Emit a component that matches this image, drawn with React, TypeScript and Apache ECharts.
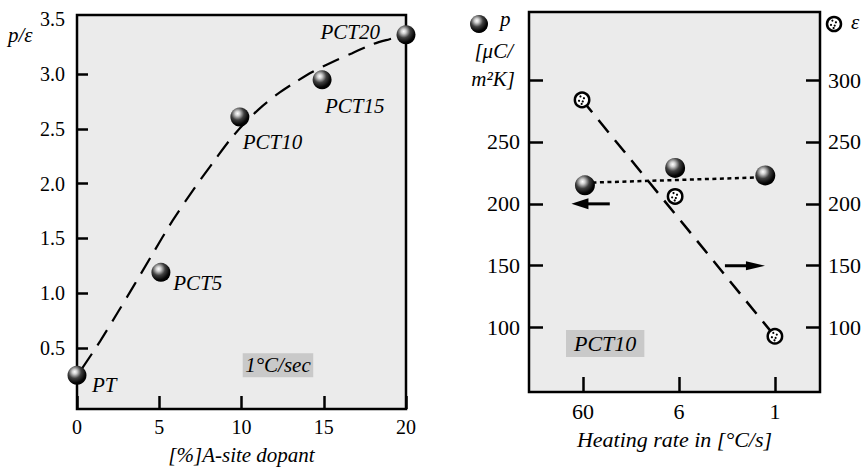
import React, { useEffect, useRef } from "react";
import * as echarts from "echarts";

// ---------- Left panel data ----------
const sampleNames = ["PT", "PCT5", "PCT10", "PCT15", "PCT20"];
const dopantPct = [0, 5.1, 9.9, 14.9, 20];
const ratioPE = [0.25, 1.19, 2.61, 2.95, 3.36];
const fitDopant = [0.3, 1.4, 2.5, 3.5, 4.6, 5.8, 7.1, 8.3, 9.4, 10.3, 11.2, 12.2, 13.2, 14.3, 15.5, 16.7, 17.9, 19.0, 20];
const fitRatio = [0.31, 0.56, 0.83, 1.08, 1.36, 1.66, 1.95, 2.2, 2.42, 2.57, 2.7, 2.82, 2.92, 3.02, 3.11, 3.19, 3.27, 3.32, 3.36];
const leftYLabels = [0.5, 1, 1.5, 2, 2.5, 3, 3.5];
const leftYTicks = [0.5, 1, 1.5, 2, 2.5, 3];
const leftXTicks = [0, 5, 10, 15, 20];

// ---------- Right panel data ----------
const rateLabels = ["60", "6", "1"];
const rateTickPos = [0, 1, 2];
const pPos = [0.02, 0.96, 1.9];
const pValues = [215, 229, 223];
const ePos = [-0.01, 0.96, 2.0];
const eValues = [284, 206, 93];
const pFitPos = [0.02, 1.9];
const pFitValues = [217, 221.5];
const eFitPos = [-0.01, 2.0];
const eFitValues = [284, 93];
const rightLeftLabels = [100, 150, 200, 250];
const rightTicks = [100, 150, 200, 250, 300];
// arrows (data coordinates): [tailX, tipX, y]
const arrowP = [0.279, -0.121, 200];
const arrowE = [1.479, 1.896, 150];

const FONT = "Liberation Serif";

const sphereFill = () => ({
  type: "radial",
  x: 0.38,
  y: 0.32,
  r: 0.68,
  colorStops: [
    { offset: 0, color: "#ffffff" },
    { offset: 0.18, color: "#d0d0d0" },
    { offset: 0.5, color: "#404040" },
    { offset: 0.85, color: "#050505" },
    { offset: 1, color: "#000000" },
  ],
});

const labelOffsets: any[] = [
  { position: "right", offset: [5.5, 9.7] },
  { position: "right", offset: [2.9, 10.6] },
  { position: "right", offset: [-6.7, 25] },
  { position: "right", offset: [-6.6, 26.3] },
  { position: "left", offset: [-16.5, -2.8] },
];

const dots = [
  [-1.6, -3.4],
  [1.9, -1.7],
  [-3.0, 0.9],
  [0.7, 1.6],
  [-0.4, 4.0],
];

export default function App() {
  const ref = useRef<HTMLDivElement>(null);
  useEffect(() => {
    const chart = echarts.init(ref.current!, null, { renderer: "svg" });
    const tickLabel = (size: number) => ({
      color: "#000",
      fontFamily: FONT,
      fontSize: size,
    });
    const italic = (size: number) => ({
      color: "#000",
      fontFamily: FONT,
      fontSize: size,
      fontStyle: "italic",
    });
    const axisLineOff = { show: false, onZero: false };

    const option: any = {
      animation: false,
      backgroundColor: "#fff",
      textStyle: { fontFamily: FONT, color: "#000" },
      grid: [
        {
          left: 77, top: 15, width: 329, height: 394,
          show: true, backgroundColor: "#ebebeb", borderColor: "#000", borderWidth: 2.5,
          outerBoundsMode: "none", containLabel: false,
        },
        {
          left: 529, top: 12, width: 291, height: 380,
          show: true, backgroundColor: "#ebebeb", borderColor: "#000", borderWidth: 2.5,
          outerBoundsMode: "none", containLabel: false,
        },
      ],
      xAxis: [
        {
          type: "value", gridIndex: 0, min: 0, max: 20, position: "bottom",
          axisLine: axisLineOff,
          splitLine: { show: false },
          axisTick: { show: true, inside: true, length: 13, lineStyle: { color: "#000", width: 2.5 }, customValues: leftXTicks },
          axisLabel: { ...tickLabel(20), margin: 8, customValues: leftXTicks, showMinLabel: true, showMaxLabel: true },
          name: "[%]A-site dopant",
          nameLocation: "middle",
          nameGap: 35,
          nameTextStyle: italic(21),
        },
        {
          type: "value", gridIndex: 1, min: -0.563, max: 2.47, position: "bottom",
          axisLine: axisLineOff,
          splitLine: { show: false },
          axisTick: { show: true, inside: true, length: 15, lineStyle: { color: "#000", width: 2.5 }, customValues: rateTickPos },
          axisLabel: {
            ...tickLabel(22), margin: 8, customValues: rateTickPos,
            formatter: (v: number) => rateLabels[Math.round(v)] ?? "",
          },
          name: "Heating rate in [°C/s]",
          nameLocation: "middle",
          nameGap: 36,
          nameTextStyle: italic(22),
        },
      ],
      yAxis: [
        {
          type: "value", gridIndex: 0, min: -0.058, max: 3.541, position: "left",
          axisLine: axisLineOff,
          splitLine: { show: false },
          axisTick: { show: true, inside: true, length: 11, lineStyle: { color: "#000", width: 2.5 }, customValues: leftYTicks },
          axisLabel: { ...tickLabel(20), margin: 12, customValues: leftYLabels, formatter: (v: number) => v.toFixed(1) },
        },
        {
          type: "value", gridIndex: 1, position: "left", min: 48, max: 355,
          axisLine: axisLineOff,
          splitLine: { show: false },
          axisTick: { show: true, inside: true, length: 14, lineStyle: { color: "#000", width: 2.5 }, customValues: rightTicks },
          axisLabel: { ...tickLabel(22), margin: 9, customValues: rightLeftLabels },
        },
        {
          type: "value", gridIndex: 1, position: "right", min: 48, max: 355,
          axisLine: axisLineOff,
          splitLine: { show: false },
          axisTick: { show: true, inside: true, length: 14, lineStyle: { color: "#000", width: 2.5 }, customValues: rightTicks },
          axisLabel: { ...tickLabel(22), margin: 8, customValues: rightTicks },
        },
      ],
      series: [
        {
          type: "line", xAxisIndex: 0, yAxisIndex: 0, smooth: 0.3,
          symbol: "none", z: 2,
          lineStyle: { color: "#000", width: 2.2, type: [18, 10] },
          data: fitDopant.map((x, i) => [x, fitRatio[i]]),
        },
        {
          type: "scatter", xAxisIndex: 0, yAxisIndex: 0, symbolSize: 19, z: 5,
          itemStyle: { color: sphereFill(), opacity: 1 },
          data: dopantPct.map((x, i) => ({
            value: [x, ratioPE[i]],
            name: sampleNames[i],
            label: {
              show: true, distance: 0, formatter: sampleNames[i],
              ...italic(21), ...labelOffsets[i],
            },
          })),
        },
        {
          type: "line", xAxisIndex: 1, yAxisIndex: 1, symbol: "none", z: 2,
          lineStyle: { color: "#000", width: 2.5, type: [4, 3.5] },
          data: pFitPos.map((x, i) => [x, pFitValues[i]]),
        },
        {
          type: "scatter", xAxisIndex: 1, yAxisIndex: 1, symbolSize: 20, z: 5,
          itemStyle: { color: sphereFill(), opacity: 1 },
          data: pPos.map((x, i) => [x, pValues[i]]),
        },
        {
          type: "line", xAxisIndex: 1, yAxisIndex: 2, symbol: "none", z: 2,
          lineStyle: { color: "#000", width: 2.5, type: [16, 10] },
          data: eFitPos.map((x, i) => [x, eFitValues[i]]),
        },
        {
          type: "custom", xAxisIndex: 1, yAxisIndex: 2, coordinateSystem: "cartesian2d", z: 6,
          encode: { x: 0, y: 1 },
          data: ePos.map((x, i) => [x, eValues[i]]),
          renderItem: (params: any, api: any) => {
            const c = api.coord([api.value(0), api.value(1)]);
            return {
              type: "group",
              x: c[0],
              y: c[1],
              children: [
                { type: "circle", shape: { cx: 0, cy: 0, r: 7.2 }, style: { fill: "#fff", stroke: "#000", lineWidth: 2.5 } },
                ...dots.map((d) => ({ type: "circle", shape: { cx: d[0], cy: d[1], r: 1.1 }, style: { fill: "#000" } })),
              ],
            };
          },
        },
      ],
    };
    chart.setOption(option);

    const px = (pt: number[]) => chart.convertToPixel({ seriesIndex: 3 }, pt) as number[];
    const arrow = (spec: number[], headLen: number, half: number) => {
      const tail = px([spec[0], spec[2]]);
      const tip = px([spec[1], spec[2]]);
      const dx = tip[0] - tail[0];
      const dy = tip[1] - tail[1];
      const L = Math.hypot(dx, dy);
      const ux = dx / L, uy = dy / L;
      const bx = tip[0] - ux * headLen, by = tip[1] - uy * headLen;
      return [
        { type: "line", shape: { x1: tail[0], y1: tail[1], x2: bx + ux * 2, y2: by + uy * 2 }, style: { stroke: "#000", lineWidth: 3 }, z: 10 },
        {
          type: "polygon",
          shape: { points: [[tip[0], tip[1]], [bx - uy * half, by + ux * half], [bx + uy * half, by - ux * half]] },
          style: { fill: "#000" },
          z: 10,
        },
      ];
    };

    const legendSphere = (cx: number, cy: number, r: number) => ({
      type: "circle",
      shape: { cx, cy, r },
      style: { fill: sphereFill() },
      z: 10,
    });

    const itf = (size: number) => `italic ${size}px "${FONT}"`;

    chart.setOption({
      graphic: {
        elements: [
          { type: "text", x: 8, y: 35, z: 10, style: { text: "p/ε", font: itf(21), fill: "#000", verticalAlign: "middle", align: "left" } },
          {
            type: "text", x: 242.7, y: 353.3, z: 10,
            style: { text: "1°C/sec", font: itf(21), fill: "#000", backgroundColor: "#c9c9c9", padding: [1.5, 2.5], lineHeight: 21, verticalAlign: "top", align: "left" },
          },
          {
            type: "text", x: 566, y: 330, z: 10,
            style: { text: "PCT10", font: itf(22), fill: "#000", backgroundColor: "#c9c9c9", padding: [2.5, 8], lineHeight: 22, verticalAlign: "top", align: "left" },
          },
          legendSphere(479, 24, 9),
          { type: "text", x: 500, y: 19, z: 10, style: { text: "p", font: itf(21), fill: "#000", verticalAlign: "middle", align: "left" } },
          { type: "text", x: 513, y: 51, z: 10, style: { text: "[μC/", font: itf(21), fill: "#000", verticalAlign: "middle", align: "right" } },
          { type: "text", x: 515, y: 79, z: 10, style: { text: "m²K]", font: itf(21), fill: "#000", verticalAlign: "middle", align: "right" } },
          { type: "circle", shape: { cx: 834, cy: 24, r: 7 }, style: { fill: "#fff", stroke: "#000", lineWidth: 2.5 }, z: 10 },
          ...dots.map((d) => ({ type: "circle", shape: { cx: 834 + d[0], cy: 24 + d[1], r: 1.1 }, style: { fill: "#000" }, z: 11 })),
          { type: "text", x: 851, y: 21.5, z: 10, style: { text: "ε", font: itf(21), fill: "#000", verticalAlign: "middle", align: "left" } },
          ...arrow(arrowP, 17, 5.5),
          ...arrow(arrowE, 19, 4.5),
        ],
      },
    });

    return () => chart.dispose();
  }, []);
  return <div ref={ref} style={{ position: "fixed", left: 0, top: 0, width: 861, height: 470 }} />;
}
